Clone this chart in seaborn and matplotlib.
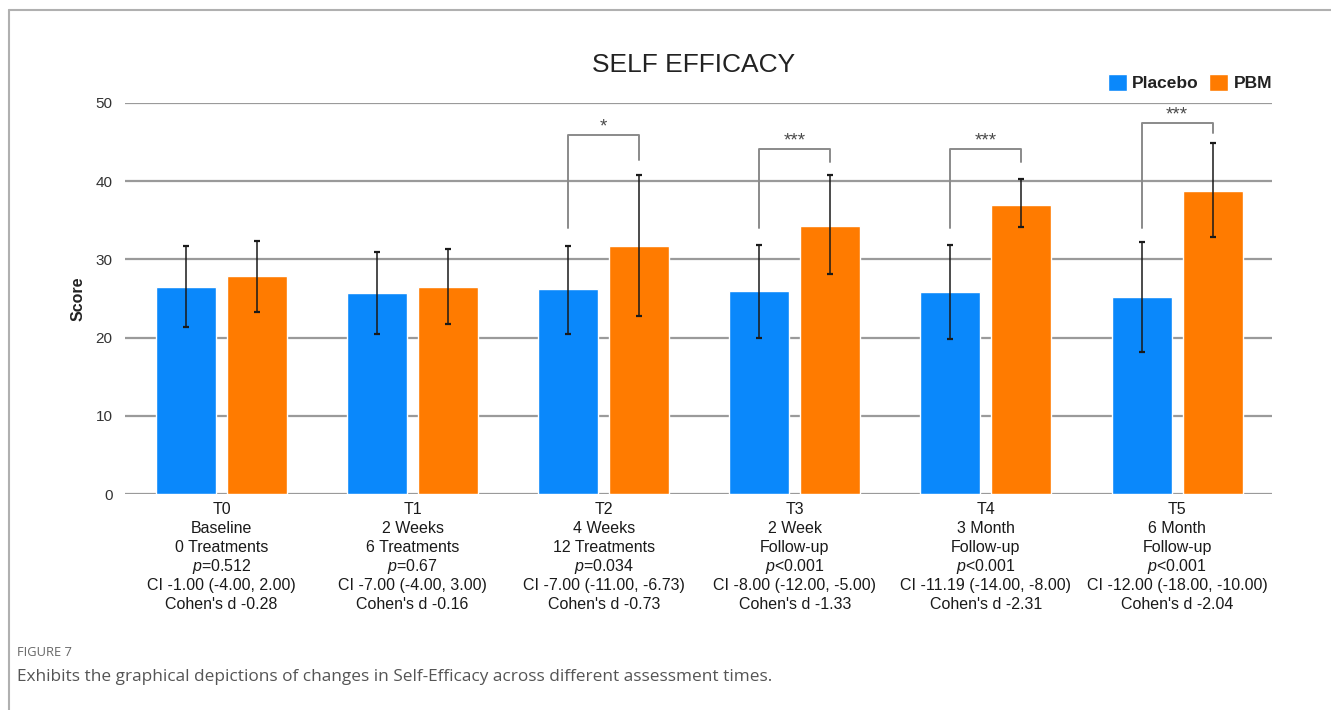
import matplotlib
matplotlib.use("Agg")
import matplotlib.pyplot as plt
from matplotlib.lines import Line2D
import numpy as np
import pandas as pd
import seaborn as sns

# --- data ---
times = ["T0", "T1", "T2", "T3", "T4", "T5"]
periods = ["Baseline", "2 Weeks", "4 Weeks", "2 Week", "3 Month", "6 Month"]
phases = ["0 Treatments", "6 Treatments", "12 Treatments", "Follow-up", "Follow-up", "Follow-up"]
p_text = ["=0.512", "=0.67", "=0.034", "<0.001", "<0.001", "<0.001"]
ci_text = ["CI -1.00 (-4.00, 2.00)", "CI -7.00 (-4.00, 3.00)", "CI -7.00 (-11.00, -6.73)",
           "CI -8.00 (-12.00, -5.00)", "CI -11.19 (-14.00, -8.00)", "CI -12.00 (-18.00, -10.00)"]
cohen_d = ["-0.28", "-0.16", "-0.73", "-1.33", "-2.31", "-2.04"]

placebo = [26.5, 25.7, 26.2, 26.0, 25.8, 25.2]
placebo_lo = [21.4, 20.5, 20.5, 20.0, 19.8, 18.1]
placebo_hi = [31.75, 30.9, 31.75, 31.9, 31.9, 32.2]
pbm = [27.9, 26.5, 31.75, 34.3, 37.0, 38.8]
pbm_lo = [23.3, 21.8, 22.8, 28.1, 34.1, 32.9]
pbm_hi = [32.4, 31.3, 40.8, 40.8, 40.3, 44.9]

# significance brackets (index of time point, top, left leg end, right leg end, stars)
sig_idx = [2, 3, 4, 5]
sig_top = [45.9, 44.1, 44.1, 47.5]
sig_left = [34.0, 34.0, 34.0, 34.0]
sig_right = [42.7, 42.4, 42.4, 46.2]
sig_stars = ["*", "***", "***", "***"]

groups = ["Placebo", "PBM"]
colors = {"Placebo": "#0A88FB", "PBM": "#FF7B00"}

df = pd.DataFrame({
    "time": times * 2,
    "group": ["Placebo"] * 6 + ["PBM"] * 6,
    "score": placebo + pbm,
})

sns.set_style("white")
plt.rcParams["font.family"] = ["Liberation Sans", "DejaVu Sans"]
plt.rcParams["mathtext.fontset"] = "custom"
plt.rcParams["mathtext.it"] = "Liberation Sans:italic"
plt.rcParams["mathtext.rm"] = "Liberation Sans"

fig = plt.figure(figsize=(13.31, 7.10), dpi=100)
ax = fig.add_axes([125 / 1331, 1 - 494 / 710, (1272 - 125) / 1331, (494 - 103) / 710])

sns.barplot(data=df, x="time", y="score", hue="group", hue_order=groups,
            palette=colors, width=0.743, gap=0.155, errorbar=None,
            saturation=1, ax=ax, zorder=3)

# error bars on bar centres
cont_pl, cont_pb = ax.containers[0], ax.containers[1]
x_pl = np.array([b.get_x() + b.get_width() / 2 for b in cont_pl])
x_pb = np.array([b.get_x() + b.get_width() / 2 for b in cont_pb])
for xs, m, lo, hi in [(x_pl, placebo, placebo_lo, placebo_hi), (x_pb, pbm, pbm_lo, pbm_hi)]:
    m = np.array(m)
    yerr = [m - np.array(lo), np.array(hi) - m]
    ax.errorbar(xs, m, yerr=yerr, fmt="none", ecolor="#1a1a1a", elinewidth=1.1,
                capsize=2.3, capthick=1.6, zorder=4)

# brackets
for i, top, le, re, st in zip(sig_idx, sig_top, sig_left, sig_right, sig_stars):
    xl, xr = x_pl[i], x_pb[i]
    ax.plot([xl, xl, xr, xr], [le, top, top, re], color="#8a8a8a", lw=1.4,
            zorder=4, clip_on=False)
    ax.text((xl + xr) / 2, top - 0.1, st, ha="center", va="bottom",
            fontsize=13.5, color="#4a4a4a")

ax.set_ylim(0, 50)
ax.set_xlim(-0.505, 5.497)
ax.set_yticks([0, 10, 20, 30, 40, 50])
ax.yaxis.grid(True, color="#9a9a9a", lw=1.6)
ax.set_axisbelow(True)
for s in ax.spines.values():
    s.set_visible(False)
ax.tick_params(axis="y", length=0, pad=9, labelsize=11, labelcolor="#333333")
ax.tick_params(axis="x", length=0)

# multi-line category labels, one line at a time for even spacing
ax.set_xticks(range(len(times)))
ax.set_xticklabels([""] * len(times))
line_px = [20, 39, 58, 77, 96, 115]
for k, (t, pe, ph, pt, ci, d) in enumerate(zip(times, periods, phases, p_text, ci_text, cohen_d)):
    lines = [t, pe, ph, f"$p${pt}", ci, f"Cohen's d {d}"]
    for line, off in zip(lines, line_px):
        ax.annotate(line, xy=(k, 0), xycoords=("data", "axes fraction"),
                    xytext=(0, -off * 0.72), textcoords="offset points",
                    ha="center", va="baseline", fontsize=11.5, color="#1a1a1a")
ax.set_xlabel("")
ax.set_ylabel("Score", fontsize=11.5, fontweight="bold", color="#222222", labelpad=7)

sns.move_legend(ax, "lower right", bbox_to_anchor=(1.0, 1.03), ncol=2, frameon=False,
                title=None, fontsize=12.5, handlelength=1.1, handleheight=1.1,
                handletextpad=0.3, columnspacing=0.6, borderpad=0, borderaxespad=0)
for t in ax.get_legend().get_texts():
    t.set_fontweight("bold")
    t.set_color("#222222")

fig.text(694 / 1331, 1 - 65 / 710, "SELF EFFICACY", ha="center", va="center",
         fontsize=19, color="#222222")

# page frame and caption
fig.add_artist(Line2D([9 / 1331, 1], [1 - 10 / 710] * 2, transform=fig.transFigure,
                      color="#b0b0b0", lw=1.5))
fig.add_artist(Line2D([9 / 1331] * 2, [0, 1 - 10 / 710], transform=fig.transFigure,
                      color="#b0b0b0", lw=1.5))
fig.text(17 / 1331, 1 - 653 / 710, "FIGURE 7", ha="left", va="center",
         fontsize=9.3, color="#666666", family=["Open Sans", "DejaVu Sans"])
fig.text(17 / 1331, 1 - 677 / 710,
         "Exhibits the graphical depictions of changes in Self-Efficacy across different assessment times.",
         ha="left", va="center", fontsize=12.4, color="#555555", family=["Open Sans", "DejaVu Sans"])

fig.savefig("out.png", dpi=100)
